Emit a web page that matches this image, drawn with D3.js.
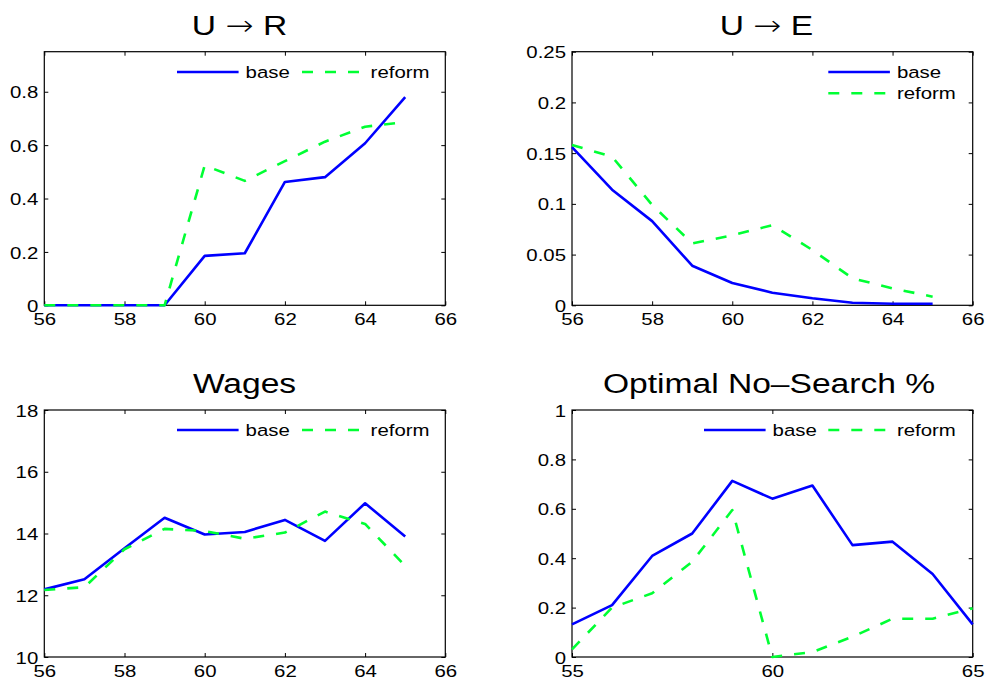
<!DOCTYPE html>
<html>
<head>
<meta charset="utf-8">
<script src="https://cdn.jsdelivr.net/npm/d3@7"></script>
<style>
  html, body { margin: 0; padding: 0; background: #fff; }
  svg { display: block; font-family: "Liberation Sans", Arial, Helvetica, sans-serif; }
</style>
</head>
<body>
<svg id="chart" width="986" height="679"></svg>
<script>
// Ages on the horizontal axis
const ages = [56, 57, 58, 59, 60, 61, 62, 63, 64, 65];
const agesNoSearch = [55, 56, 57, 58, 59, 60, 61, 62, 63, 64, 65];

// Transition U -> R
const urBase   = [0, 0, 0, 0, 0.185, 0.195, 0.462, 0.48, 0.607, 0.78];
const urReform = [0, 0, 0, 0, 0.524, 0.466, 0.54, 0.613, 0.669, 0.686];

// Transition U -> E
const ueBase   = [0.156, 0.114, 0.083, 0.039, 0.022, 0.0124, 0.007, 0.0025, 0.0015, 0.0015];
const ueReform = [0.158, 0.1465, 0.099, 0.061, 0.069, 0.079, 0.0545, 0.0266, 0.0167, 0.0085];

// Wages
const wageBase   = [12.19, 12.52, 13.52, 14.51, 13.97, 14.05, 14.44, 13.76, 14.98, 13.9];
const wageReform = [12.17, 12.26, 13.49, 14.15, 14.08, 13.83, 14.03, 14.71, 14.31, 12.95];

// Optimal no-search share
const nsBase   = [0.132, 0.21, 0.409, 0.50, 0.713, 0.641, 0.694, 0.453, 0.467, 0.336, 0.132];
const nsReform = [0.031, 0.20, 0.258, 0.386, 0.595, 0.0, 0.02, 0.082, 0.155, 0.155, 0.197];

// Tick values
const ticksAge = [56, 58, 60, 62, 64, 66];
const ticksAgeNoSearch = [55, 60, 65];
const ticksUR = [0, 0.2, 0.4, 0.6, 0.8];
const ticksUE = [0, 0.05, 0.1, 0.15, 0.2, 0.25];
const ticksWage = [10, 12, 14, 16, 18];
const ticksNS = [0, 0.2, 0.4, 0.6, 0.8, 1];

const seriesNames = ["base", "reform"];

const BLUE = "#0000ff";
const GREEN = "#00ff33";
const DASH = "11,12";
const STRETCH = 1.2; // wide-set lettering

const svg = d3.select("#chart");

const panels = [
  { title: ["U ", "\u2192", " R"], x: ages, base: urBase, reform: urReform,
    xDom: [56, 66], yDom: [0, 0.95], xTicks: ticksAge, yTicks: ticksUR,
    box: [44.3, 51.7, 445.3, 305.3], legend: "row",
    legendPos: { x1: 177, y: 72, x2: 302 }, titleX: 239.5, titleY: 35 },
  { title: ["U ", "\u2192", " E"], x: ages, base: ueBase, reform: ueReform,
    xDom: [56, 66], yDom: [0, 0.25], xTicks: ticksAge, yTicks: ticksUE,
    box: [572, 51.7, 972.7, 305.3], legend: "column",
    legendPos: { x1: 828.3, y: 72, y2: 93.3 }, titleX: 766.5, titleY: 35 },
  { title: ["Wages"], x: ages, base: wageBase, reform: wageReform,
    xDom: [56, 66], yDom: [10, 18], xTicks: ticksAge, yTicks: ticksWage,
    box: [44.3, 410, 445.3, 657], legend: "row",
    legendPos: { x1: 177, y: 430, x2: 302 }, titleX: 244.5, titleY: 393 },
  { title: ["Optimal No\u2013Search %"], x: agesNoSearch, base: nsBase, reform: nsReform,
    xDom: [55, 65], yDom: [0, 1], xTicks: ticksAgeNoSearch, yTicks: ticksNS,
    box: [572, 410, 972.7, 657], legend: "row",
    legendPos: { x1: 704, y: 430, x2: 828.3 }, titleX: 769, titleY: 393 }
];

// MATLAB-style tick text: no trailing zeros
const fmt = v => String(+v.toFixed(4));

// Widen text horizontally around its anchor point
function widen(sel) {
  sel.each(function () {
    const t = d3.select(this);
    const x = +t.attr("x") || 0, y = +t.attr("y") || 0;
    t.attr("x", 0).attr("y", 0)
     .attr("transform", `translate(${x},${y}) scale(${STRETCH},1)`);
  });
}

panels.forEach(p => {
  const [x0, y0, x1, y1] = p.box;
  const xs = d3.scaleLinear().domain(p.xDom).range([x0, x1]);
  const ys = d3.scaleLinear().domain(p.yDom).range([y1, y0]);
  const g = svg.append("g");

  // Axes: inward ticks on all four sides
  const tickLen = 4;
  const bottom = g.append("g").attr("transform", `translate(0,${y1})`)
    .call(d3.axisBottom(xs).tickValues(p.xTicks).tickSizeInner(-tickLen).tickSizeOuter(0)
      .tickPadding(5).tickFormat(fmt));
  const left = g.append("g").attr("transform", `translate(${x0},0)`)
    .call(d3.axisLeft(ys).tickValues(p.yTicks).tickSizeInner(-tickLen).tickSizeOuter(0)
      .tickPadding(6).tickFormat(fmt));
  g.append("g").attr("transform", `translate(0,${y0})`)
    .call(d3.axisTop(xs).tickValues(p.xTicks).tickSizeInner(-tickLen).tickSizeOuter(0).tickFormat(""));
  g.append("g").attr("transform", `translate(${x1},0)`)
    .call(d3.axisRight(ys).tickValues(p.yTicks).tickSizeInner(-tickLen).tickSizeOuter(0).tickFormat(""));

  g.selectAll(".domain").remove();
  g.selectAll(".tick line").attr("stroke", "#000").attr("stroke-width", 1);
  g.selectAll(".tick text").attr("fill", "#000").attr("font-size", 17)
    .attr("font-family", "'Liberation Sans', Arial, sans-serif");
  bottom.selectAll(".tick text").attr("dy", "0.88em");
  left.selectAll(".tick text").attr("dy", "0.36em");
  widen(bottom.selectAll(".tick text"));
  widen(left.selectAll(".tick text"));

  // Frame
  g.append("rect").attr("x", x0).attr("y", y0)
    .attr("width", x1 - x0).attr("height", y1 - y0)
    .attr("fill", "none").attr("stroke", "#000").attr("stroke-width", 1.2);

  const line = d3.line().x((d, i) => xs(p.x[i])).y(d => ys(d));

  g.append("path").datum(p.base).attr("d", line)
    .attr("fill", "none").attr("stroke", BLUE).attr("stroke-width", 2.6)
    .attr("stroke-linejoin", "round");
  g.append("path").datum(p.reform).attr("d", line)
    .attr("fill", "none").attr("stroke", GREEN).attr("stroke-width", 2.6)
    .attr("stroke-dasharray", DASH).attr("stroke-linejoin", "round");

  // Title (arrow set in a font with a long, thin arrow glyph)
  const title = g.append("text").attr("x", p.titleX).attr("y", p.titleY)
    .attr("text-anchor", "middle").attr("font-size", 28).attr("fill", "#000");
  p.title.forEach(part => {
    const ts = title.append("tspan").text(part);
    if (part === "\u2192") ts.attr("font-family", "'DejaVu Sans', sans-serif").attr("font-weight", 200);
  });
  title.attr("xml:space", "preserve");
  widen(title);

  // Legend (no box)
  const L = p.legendPos;
  const segW = 61.6;
  const items = p.legend === "row"
    ? [{ x: L.x1, y: L.y }, { x: L.x2, y: L.y }]
    : [{ x: L.x1, y: L.y }, { x: L.x1, y: L.y2 }];
  items.forEach((it, i) => {
    g.append("line").attr("x1", it.x).attr("x2", it.x + segW)
      .attr("y1", it.y).attr("y2", it.y)
      .attr("stroke", i === 0 ? BLUE : GREEN).attr("stroke-width", 2.6)
      .attr("stroke-dasharray", i === 0 ? null : DASH);
    const t = g.append("text").attr("x", it.x + segW + 7).attr("y", it.y)
      .attr("dy", "0.35em").attr("font-size", 17).attr("fill", "#000")
      .text(seriesNames[i]);
    widen(t);
  });
});
</script>
</body>
</html>
